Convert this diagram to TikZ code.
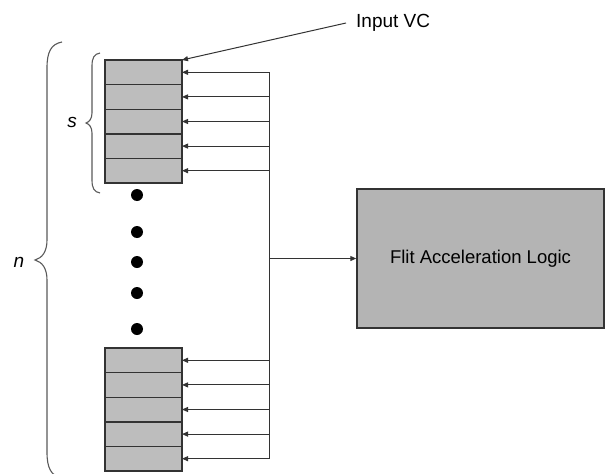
\documentclass[tikz,border=0pt]{standalone}
\usepackage{fontspec}
\setmainfont{Liberation Sans}
\usetikzlibrary{arrows.meta}
\definecolor{cellgray}{HTML}{BDBDBD}
\definecolor{boxgray}{HTML}{B4B4B4}
\definecolor{linegray}{HTML}{333333}
\begin{document}
\begin{tikzpicture}[x=1pt,y=-1pt,
  cell/.style={draw=linegray,line width=1.4pt,fill=cellgray,minimum width=77pt,minimum height=24.6pt,inner sep=0pt,outer sep=0pt},
  wire/.style={draw=linegray,line width=1pt},
  feed/.style={wire,-{Triangle[length=6pt,width=5pt]}},
  dotc/.style={circle,fill=black,minimum size=12pt,inner sep=0pt},
  brc/.style={draw=gray!70!black,line width=1.1pt},
  lbl/.style={font=\fontsize{19}{22}\selectfont,inner sep=0pt}]
\useasboundingbox (0,0) rectangle (606,474);
% stacks
\foreach \i/\y in {1/72.3,2/96.9,3/121.5,4/146.1,5/170.7}{
  \node[cell] (t\i) at (143.5,\y) {};
}
\foreach \i/\y in {1/360.3,2/384.9,3/409.5,4/434.1,5/458.7}{
  \node[cell] (b\i) at (143.5,\y) {};
}
% dots
\foreach \i/\y in {1/195,2/232,3/262,4/293,5/329}{
  \node[dotc] (d\i) at (137,\y) {};
}
% bus
\foreach \i/\y in {1/72.3,2/96.9,3/121.5,4/146.1,5/170.7}{
  \coordinate (bt\i) at (269,\y);
  \draw[feed] (bt\i) -- (t\i.east);
}
\foreach \i/\y in {1/360.3,2/384.9,3/409.5,4/434.1,5/458.7}{
  \coordinate (bb\i) at (269,\y);
  \draw[feed] (bb\i) -- (b\i.east);
}
\draw[wire] (bt1) -- (bb5);
% flit box
\node[draw=linegray,line width=1.4pt,fill=boxgray,minimum width=247pt,minimum height=139pt,inner sep=0pt,
  font=\fontsize{18.5}{22}\selectfont] (fal) at (480.5,258.5) {Flit Acceleration Logic};
\coordinate (bm) at (269,258.5);
\draw[feed] (bm) -- (fal.west);
% input VC
\node[lbl,anchor=west] (ivc) at (356,23) {Input VC};
\path (ivc.west) ++(-10,0) coordinate (ivcs);
\draw[feed] (ivcs) -- (t1.north east);
% braces
\draw[brc] (100,53) .. controls (94,54) and (92,58) .. (92,66) -- (92,113)
  .. controls (92,119) and (89,122) .. (86,123) .. controls (89,124) and (92,127) .. (92,133)
  -- (92,180) .. controls (92,188) and (94,192) .. (100,193);
\node[lbl,font=\fontsize{19}{22}\selectfont\itshape] (s) at (72,122) {s};
\draw[brc] (62,42) .. controls (51,44) and (47,52) .. (47,68) -- (47,240)
  .. controls (47,252) and (42,258) .. (35,260) .. controls (42,262) and (47,268) .. (47,280)
  -- (47,452) .. controls (47,468) and (51,476) .. (62,478);
\node[lbl,font=\fontsize{19}{22}\selectfont\itshape] (n) at (19,262) {n};
\end{tikzpicture}
\end{document}
